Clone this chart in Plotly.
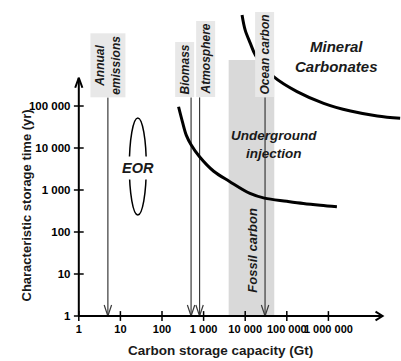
import math
import plotly.graph_objects as go

# Carbon reservoirs (Gt C) marked by labelled arrows
reservoir_labels = ["Annual<br>emissions", "Biomass", "Atmosphere", "Ocean carbon"]
reservoir_gt = [5, 500, 800, 30000]
label_shift_px = [0, -6, 6, 0]
label_base_yr = 1.6e5

# Fossil carbon range (Gt C)
fossil_gt = [4000, 50000]
fossil_top_yr = 1.25e6

# Underground injection boundary
underground_gt = [250, 310, 385, 500, 800, 1750, 4200, 13000, 29000,
                  100000, 250000, 640000, 1600000]
underground_yr = [96000, 42000, 20000, 12000, 6200, 2800, 1600, 830, 640,
                  540, 480, 435, 400]

# Mineral carbonates boundary
mineral_gt = [8400, 10000, 13300, 17500, 29000, 48000, 176000, 770000,
              3.4e6, 1.5e7, 5.3e7]
mineral_yr = [1.47e7, 6.4e6, 3.1e6, 1.64e6, 8.5e5, 5.0e5, 2.2e5, 1.16e5,
              76000, 58000, 51000]

# Enhanced oil recovery envelope
eor_gt = [16.4, 41.9]
eor_yr = [254, 51900]

x_ticks = [1, 10, 100, 1000, 10000, 100000, 1000000]
x_tick_text = ["1", "10", "100", "1 000", "10 000", "100 000", "1 000 000"]
y_ticks = [1, 10, 100, 1000, 10000, 100000]
y_tick_text = ["1", "10", "100", "1 000", "10 000", "100 000"]

x_axis_end = 2.0e7
y_axis_end = 4.7e5

W, H = 401, 361
ML, MR, MT, MB = 58, 0, 0, 24
XR = [-0.5, 7.745]
YR = [-0.5, 7.524]
ppd_x = (W - ML - MR) / (XR[1] - XR[0])
ppd_y = (H - MT - MB) / (YR[1] - YR[0])


def fx(px):
    return 10 ** (px / ppd_x)


def fy(px):
    return 10 ** (px / ppd_y)


FONT = "Liberation Sans, Arial, sans-serif"
INK = "#1a1a1a"
LINE_GREY = "#3a3a3a"

fig = go.Figure()

# fossil carbon band
fig.add_trace(go.Scatter(
    x=[fossil_gt[0], fossil_gt[1], fossil_gt[1], fossil_gt[0], fossil_gt[0]],
    y=[1, 1, fossil_top_yr, fossil_top_yr, 1],
    mode="lines", fill="toself", fillcolor="#d9d9d9",
    line=dict(width=0), hoverinfo="skip"))

# reservoir arrows
vx, vy, hx, hy = [], [], [], []
for g in reservoir_gt:
    vx += [g, g, None]
    vy += [label_base_yr, 1, None]
    hx += [g / fx(3.7), g, g * fx(3.7), None]
    hy += [fy(11), 1, fy(11), None]
fig.add_trace(go.Scatter(x=vx, y=vy, mode="lines",
                         line=dict(color=LINE_GREY, width=1.2), hoverinfo="skip"))
fig.add_trace(go.Scatter(x=hx, y=hy, mode="lines",
                         line=dict(color=LINE_GREY, width=1.2), hoverinfo="skip"))

# boundary curves
fig.add_trace(go.Scatter(x=underground_gt, y=underground_yr, mode="lines",
                         line=dict(color="black", width=3, shape="spline"),
                         hoverinfo="skip"))
fig.add_trace(go.Scatter(x=mineral_gt, y=mineral_yr, mode="lines",
                         line=dict(color="black", width=3, shape="spline"),
                         hoverinfo="skip"))

# axes with arrowheads
fig.add_trace(go.Scatter(
    x=[1, 1, None, 1 / fx(3.6), 1, fx(3.6), None,
       1, x_axis_end, None, x_axis_end / fx(7), x_axis_end, x_axis_end / fx(7)],
    y=[1, y_axis_end, None, y_axis_end / fy(10), y_axis_end, y_axis_end / fy(10), None,
       1, 1, None, fy(4.3), 1, 1 / fy(4.3)],
    mode="lines", line=dict(color="black", width=2), hoverinfo="skip"))

# crossing tick marks
fig.add_trace(go.Scatter(x=x_ticks, y=[1] * len(x_ticks), mode="markers",
                         marker=dict(symbol="line-ns", size=7,
                                     line=dict(color="black", width=1.5)),
                         hoverinfo="skip"))
fig.add_trace(go.Scatter(x=[1] * len(y_ticks), y=y_ticks, mode="markers",
                         marker=dict(symbol="line-ew", size=7,
                                     line=dict(color="black", width=1.5)),
                         hoverinfo="skip"))

# EOR envelope
fig.add_shape(type="circle", xref="x", yref="y",
              x0=eor_gt[0], x1=eor_gt[1], y0=eor_yr[0], y1=eor_yr[1],
              line=dict(color="black", width=1.5))

label_font = dict(family=FONT, size=12, color=INK, weight="bold", style="italic")
annotations = []
for name, g, sh in zip(reservoir_labels, reservoir_gt, label_shift_px):
    annotations.append(dict(
        x=math.log10(g), y=math.log10(label_base_yr), xref="x", yref="y",
        text=name, textangle=-90, showarrow=False, xanchor="center",
        yanchor="bottom", xshift=sh, bgcolor="#e8e8e8", borderpad=2,
        font=label_font))

annotations += [
    dict(x=math.log10(26.2), y=math.log10(3350), xref="x", yref="y",
         text="EOR", showarrow=False, bgcolor="white", borderpad=3,
         font=dict(family=FONT, size=14.5, color=INK, weight="bold", style="italic")),
    dict(x=math.log10(15000), y=math.log10(37), xref="x", yref="y",
         text="Fossil carbon", textangle=-90, showarrow=False,
         font=dict(family=FONT, size=13, color=INK, weight="bold", style="italic")),
    dict(x=math.log10(50000), y=math.log10(11800), xref="x", yref="y",
         text="Underground<br>injection", showarrow=False,
         font=dict(family=FONT, size=13.5, color=INK, weight="bold", style="italic")),
    dict(x=math.log10(1.6e6), y=math.log10(1.47e6), xref="x", yref="y",
         text="Mineral<br>Carbonates", showarrow=False,
         font=dict(family=FONT, size=15, color=INK, weight="bold", style="italic")),
    dict(x=(16 - ML) / (W - ML - MR), y=(H - MB - 206) / (H - MT - MB),
         xref="paper", yref="paper", text="Characteristic storage time (yr)",
         textangle=-90, showarrow=False, yanchor="middle",
         font=dict(family=FONT, size=13, color=INK, weight="bold")),
    dict(x=(220 - ML) / (W - ML - MR), y=(H - MB - 350) / (H - MT - MB),
         xref="paper", yref="paper", text="Carbon storage capacity (Gt)",
         showarrow=False, yanchor="middle",
         font=dict(family=FONT, size=13.5, color=INK, weight="bold")),
]

fig.update_layout(
    width=W, height=H,
    margin=dict(l=ML, r=MR, t=MT, b=MB),
    paper_bgcolor="white", plot_bgcolor="white",
    showlegend=False,
    annotations=annotations,
    xaxis=dict(type="log", range=XR, showgrid=False, zeroline=False,
               showline=False, tickvals=x_ticks, ticktext=x_tick_text,
               tickangle=0,
               ticks="outside", ticklen=3, tickcolor="rgba(0,0,0,0)",
               tickfont=dict(family=FONT, size=11, color="black", weight="bold"),
               anchor="free",
               position=(0 - YR[0]) / (YR[1] - YR[0])),
    yaxis=dict(type="log", range=YR, showgrid=False, zeroline=False,
               showline=False, tickvals=y_ticks, ticktext=y_tick_text,
               ticks="outside", ticklen=6, tickcolor="rgba(0,0,0,0)",
               tickfont=dict(family=FONT, size=11.5, color="black", weight="bold"),
               anchor="free",
               position=(0 - XR[0]) / (XR[1] - XR[0])),
)

fig.write_html("out.html")
